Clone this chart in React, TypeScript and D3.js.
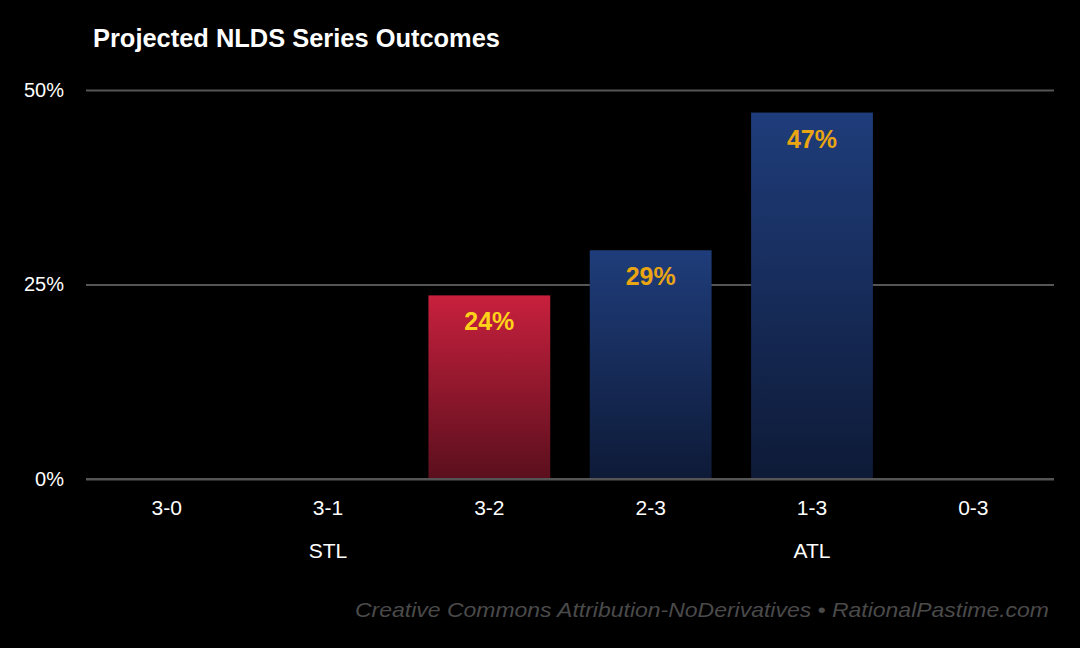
import * as d3 from 'd3';
import React, { FC, useEffect } from 'react';

const outcomes = ['3-0', '3-1', '3-2', '2-3', '1-3', '0-3'];
const probabilities = [0, 0, 23.6, 29.4, 47.1, 0];
const winners = ['STL', 'STL', 'STL', 'ATL', 'ATL', 'ATL'];
const teamLabels = [
	{ name: 'STL', at: '3-1' },
	{ name: 'ATL', at: '1-3' },
];
const yTicks = [0, 25, 50];

const App: FC = () => {
	const containerDiv = React.useRef<HTMLDivElement>(null);
	const { height, width } = { height: 648, width: 1080 };
	const margin = { top: 90, right: 26, bottom: 169, left: 86 };

	const initializeBarchart = () => {
		const x: any = d3
			.scaleBand()
			.domain(outcomes)
			.range([margin.left, width - margin.right])
			.paddingInner(0.245)
			.paddingOuter(0.1225);

		const y: any = d3
			.scaleLinear()
			.domain([0, 50])
			.range([height - margin.bottom, margin.top]);

		const svg = d3
			.create('svg')
			.attr('width', width)
			.attr('height', height)
			.attr('viewBox', `0 0 ${width} ${height}`)
			.style('display', 'block')
			.style('background', '#000')
			.style('font-family', "'Liberation Sans', Arial, sans-serif");

		const defs = svg.append('defs');
		const grad = (id: string, top: string, bottom: string) => {
			const g = defs
				.append('linearGradient')
				.attr('id', id)
				.attr('x1', 0)
				.attr('y1', 0)
				.attr('x2', 0)
				.attr('y2', 1);
			g.append('stop').attr('offset', '0%').attr('stop-color', top);
			g.append('stop').attr('offset', '100%').attr('stop-color', bottom);
		};
		grad('stl', '#c8203d', '#5a0f1d');
		grad('atl', '#1f3d7b', '#0e1a37');

		svg.append('rect').attr('width', width).attr('height', height).attr('fill', '#000');

		// gridlines + y labels
		const yAxis = (g: any) =>
			g
				.attr('transform', `translate(${margin.left},0)`)
				.call(
					d3
						.axisLeft(y)
						.tickValues(yTicks)
						.tickSize(-(width - margin.left - margin.right))
						.tickPadding(22)
						.tickFormat((d: any) => `${d}%`)
				)
				.call((g: any) => g.select('.domain').remove())
				.call((g: any) => g.selectAll('line').attr('stroke', '#555').attr('stroke-width', 2))
				.call((g: any) =>
					g
						.selectAll('text')
						.attr('fill', '#fff')
						.attr('font-size', 20)
						.attr('font-family', "'Liberation Sans', Arial, sans-serif")
				);
		svg.append('g').call(yAxis);

		const data = outcomes.map((o, i) => ({ name: o, value: probabilities[i], team: winners[i] }));

		svg.append('g')
			.selectAll('rect')
			.data(data.filter(d => d.value > 0))
			.join('rect')
			.attr('x', (d: any) => x(d.name))
			.attr('y', (d: any) => y(d.value))
			.attr('height', (d: any) => y(0) - y(d.value))
			.attr('width', x.bandwidth())
			.attr('fill', (d: any) => (d.team === 'STL' ? 'url(#stl)' : 'url(#atl)'));

		// zero line on top of bars
		svg.append('line')
			.attr('x1', margin.left)
			.attr('x2', width - margin.right)
			.attr('y1', y(0))
			.attr('y2', y(0))
			.attr('stroke', '#555')
			.attr('stroke-width', 2);

		svg.append('g')
			.selectAll('text')
			.data(data.filter(d => d.value > 0))
			.join('text')
			.attr('x', (d: any) => x(d.name) + x.bandwidth() / 2)
			.attr('y', (d: any) => y(d.value) + 35)
			.attr('text-anchor', 'middle')
			.attr('font-size', 25)
			.attr('font-weight', 'bold')
			.attr('fill', (d: any) => (d.team === 'STL' ? '#ffd21a' : '#e9a512'))
			.text((d: any) => `${Math.round(d.value)}%`);

		// category labels
		svg.append('g')
			.selectAll('text')
			.data(outcomes)
			.join('text')
			.attr('x', (d: any) => x(d) + x.bandwidth() / 2)
			.attr('y', 515)
			.attr('text-anchor', 'middle')
			.attr('font-size', 21)
			.attr('fill', '#fff')
			.text((d: any) => d);

		svg.append('g')
			.selectAll('text')
			.data(teamLabels)
			.join('text')
			.attr('x', (d: any) => x(d.at) + x.bandwidth() / 2)
			.attr('y', 558)
			.attr('text-anchor', 'middle')
			.attr('font-size', 21)
			.attr('fill', '#fff')
			.text((d: any) => d.name);

		svg.append('text')
			.attr('x', 93)
			.attr('y', 47)
			.attr('font-size', 25.5)
			.attr('font-weight', 'bold')
			.attr('fill', '#fff')
			.attr('textLength', 407)
			.attr('lengthAdjust', 'spacingAndGlyphs')
			.text('Projected NLDS Series Outcomes');

		svg.append('text')
			.attr('x', 355)
			.attr('y', 617)
			.attr('font-size', 21)
			.attr('font-style', 'italic')
			.attr('fill', '#4a4a4a')
			.attr('textLength', 694)
			.attr('lengthAdjust', 'spacingAndGlyphs')
			.text('Creative Commons Attribution-NoDerivatives \u2022 RationalPastime.com');

		return svg.node();
	};

	useEffect(() => {
		document.body.style.margin = '0';
		document.body.style.background = '#000';
		const chart = initializeBarchart();
		const container = containerDiv.current as HTMLDivElement;
		if (container && chart) {
			container.firstChild && container.removeChild(container.firstChild);
			container.appendChild(chart);
		}
	}, []);

	return <div ref={containerDiv}></div>;
};

export default App;
